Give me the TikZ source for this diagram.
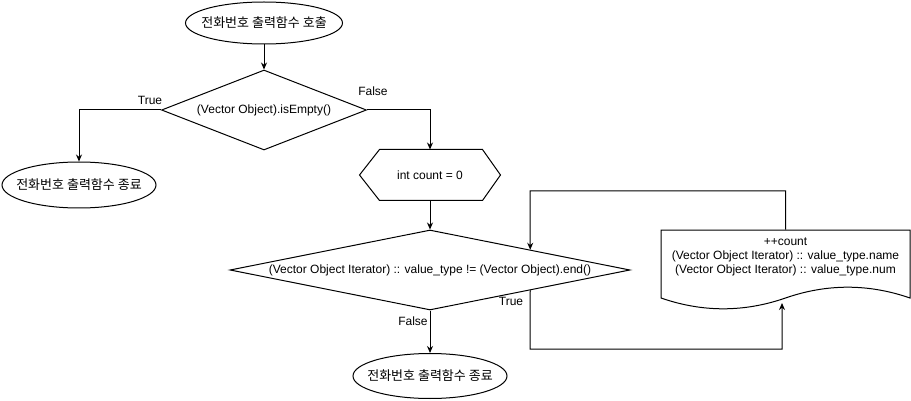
\documentclass[tikz,border=0pt]{standalone}
\usepackage{fontspec}
\setmainfont{Liberation Sans}
\newfontfamily\kr{Noto Sans CJK KR}
\usetikzlibrary{shapes.geometric,arrows.meta}
\begin{document}
\begin{tikzpicture}[x=1pt,y=-1pt,line width=1pt,
  every node/.style={font=\fontsize{12}{14}\selectfont,inner sep=0pt},
  term/.style={ellipse,draw,font=\kr\fontsize{13}{15}\selectfont},
  dec/.style={diamond,draw},
  plain/.style={draw=none,rectangle},
  arr/.style={-{Stealth[length=7pt,width=6pt]}}]
\useasboundingbox (0,0) rectangle (911,401);

% nodes
\node[term,minimum width=157pt,minimum height=42pt] (start) at (264,23) {\makebox[0pt]{전화번호 출력함수 호출}};
\node[dec,minimum width=205pt,minimum height=80pt] (d1) at (264,110) {\makebox[0pt]{(Vector Object).isEmpty()}};
\node[term,minimum width=154pt,minimum height=46pt] (endL) at (79,185) {\makebox[0pt]{전화번호 출력함수 종료}};
\node[plain,minimum width=140pt,minimum height=50pt] (hex) at (430,175) {int count = 0};
\draw (hex.west) -- ([xshift=20pt]hex.north west) -- ([xshift=-18pt]hex.north east) -- (hex.east)
  -- ([xshift=-18pt]hex.south east) -- ([xshift=20pt]hex.south west) -- cycle;
\node[dec,minimum width=400pt,minimum height=80pt] (d2) at (430,270) {\makebox[0pt]{(Vector Object Iterator) :: value\_type != (Vector Object).end()}};
\node[term,minimum width=154pt,minimum height=45pt] (endB) at (430,376) {\makebox[0pt]{전화번호 출력함수 종료}};

% document shape
\node[plain,minimum width=249pt,minimum height=80pt] (doc) at (785.5,270) {};
\draw (661,230) -- (910,230) -- (910,298)
  .. controls (868.5,283.6) and (827,283.6) .. (785.5,298)
  .. controls (744,312.4) and (702.5,312.4) .. (661,298) -- cycle;
\node[align=center] (doctxt) at (785.5,257) {++count\\(Vector Object Iterator) :: value\_type.name\\ (Vector Object Iterator) :: value\_type.num};

% helper coordinates
\coordinate (tb) at (530,349);
\coordinate (docin) at (782,303);
\coordinate (lt) at (530,191);

% connectors
\draw[arr] (start) -- (d1);
\draw[arr] (d1.west) -| (endL.north);
\draw[arr] (d1.east) -| (hex.north);
\draw[arr] (hex.south) -- (d2.north);
\draw[arr] (d2.south) -- (endB.north);
\draw[arr] (d2.south east) -- (tb) -| (docin);
\draw[arr] (doc.north) |- (lt) -- (d2.north east);

% labels
\node (lTrue1) at (150,100) {True};
\node (lFalse1) at (373,91) {False};
\node (lTrue2) at (511,301) {True};
\node (lFalse2) at (413,321) {False};
\end{tikzpicture}
\end{document}
